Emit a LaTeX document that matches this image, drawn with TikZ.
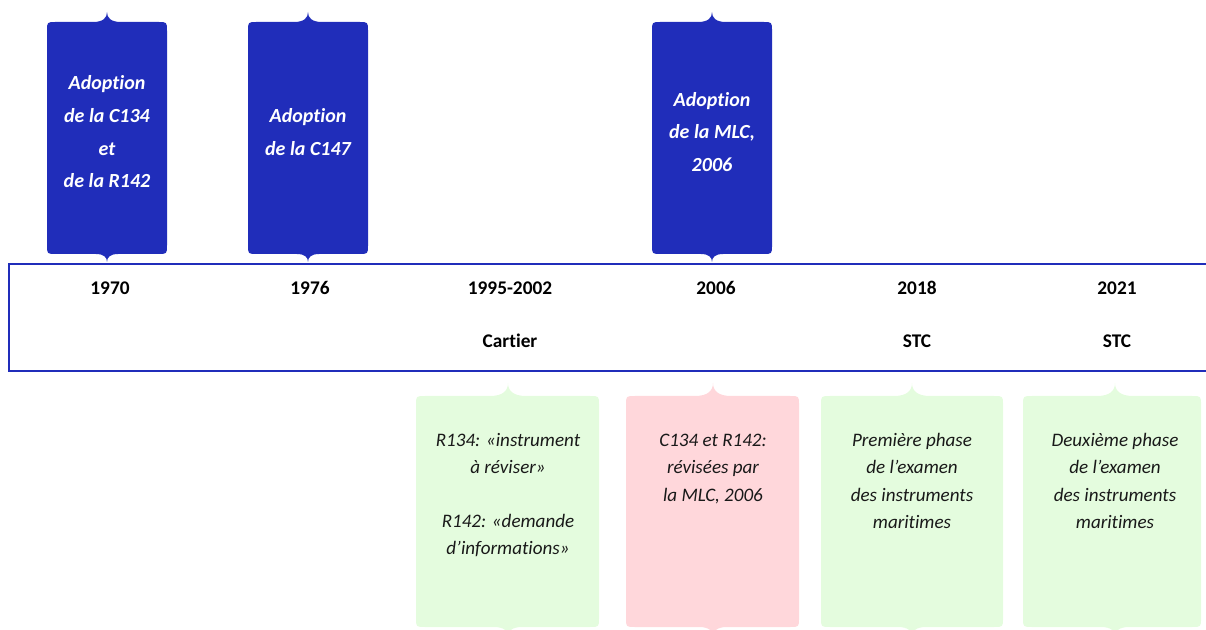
\documentclass[tikz,border=0pt]{standalone}
\usepackage{fontspec}
\setmainfont{Carlito}[Ligatures=NoCommon]
\definecolor{tlblue}{RGB}{32,45,186}
\definecolor{tlgreen}{RGB}{228,252,222}
\definecolor{tlpink}{RGB}{255,215,219}
\definecolor{tltext}{RGB}{25,25,25}
% #1 left, #2 top, #3 right, #4 bottom, #5 cusp x, #6 top cusp size, #7 bottom cusp size, #8 style
\newcommand{\tlshape}[8]{%
  \fill[#8] (#1,#2+9) .. controls (#1,#2) .. (#1+9,#2)
    -- (#5-1.4*#6,#2) .. controls (#5-0.4*#6,#2) and (#5,#2-0.4*#6) .. (#5,#2-#6)
    .. controls (#5,#2-0.4*#6) and (#5+0.4*#6,#2) .. (#5+1.4*#6,#2)
    -- (#3-9,#2) .. controls (#3,#2) .. (#3,#2+9)
    -- (#3,#4-9) .. controls (#3,#4) .. (#3-9,#4)
    -- (#5+1.4*#7,#4) .. controls (#5+0.4*#7,#4) and (#5,#4+0.4*#7) .. (#5,#4+#7)
    .. controls (#5,#4+0.4*#7) and (#5-0.4*#7,#4) .. (#5-1.4*#7,#4)
    -- (#1+9,#4) .. controls (#1,#4) .. (#1,#4-9) -- cycle;}
\begin{document}
\begin{tikzpicture}[x=0.75pt,y=-0.75pt,
  bluebox/.style={fill=tlblue},
  greenbox/.style={fill=tlgreen},
  pinkbox/.style={fill=tlpink},
  band/.style={draw=tlblue,line width=1.5pt},
  bluetxt/.style={text=white,align=center,inner sep=0pt,font=\fontsize{15}{24.5}\selectfont\bfseries\itshape},
  lowtxt/.style={text=tltext,align=center,inner sep=0pt,font=\fontsize{14.3}{20.5}\selectfont\itshape},
  year/.style={text=black,inner sep=0pt,font=\fontsize{14.5}{17}\selectfont\bfseries}]
\useasboundingbox (0,0) rectangle (1206,630);
% upper blue boxes
\tlshape{47}{22}{167}{254}{107}{10}{8}{bluebox}
\tlshape{248}{22}{368}{254}{308}{10}{8}{bluebox}
\tlshape{652}{22}{772}{254}{712}{10}{8}{bluebox}
\node[bluetxt] (a1970) at (107,132) {Adoption\\de la C134\\et\\de la R142};
\node[bluetxt] (a1976) at (308,132) {Adoption\\de la C147};
\node[bluetxt] (a2006) at (712,132) {Adoption\\de la MLC,\\2006};
% band
\draw[band] (1206,264) -- (9,264) -- (9,371) -- (1206,371);
\node[year] (y1970) at (110,288) {1970};
\node[year] (y1976) at (310,288) {1976};
\node[year] (y1995) at (510,288) {1995-2002};
\node[year] (y2006) at (716,288) {2006};
\node[year] (y2018) at (917,288) {2018};
\node[year] (y2021) at (1117,288) {2021};
\node[year] (cartier) at (510,341) {Cartier};
\node[year] (stc1) at (917,341) {STC};
\node[year] (stc2) at (1117,341) {STC};
% lower boxes
\tlshape{416}{396}{599}{627}{508}{13}{10}{greenbox}
\tlshape{626}{396}{799}{627}{713}{13}{10}{pinkbox}
\tlshape{821}{396}{1003}{627}{912}{13}{10}{greenbox}
\tlshape{1023}{396}{1201}{627}{1115}{13}{10}{greenbox}
\node[lowtxt] (b1) at (508,495) {R134: «instrument\\à réviser»\\[19.5pt]R142: «demande\\d’informations»};
\node[lowtxt] (b2) at (713,469) {C134 et R142:\\révisées par\\la MLC, 2006};
\node[lowtxt] (b3) at (912,481) {Première phase\\de l’examen\\des instruments\\maritimes};
\node[lowtxt] (b4) at (1115,481) {Deuxième phase\\de l’examen\\des instruments\\maritimes};
\end{tikzpicture}
\end{document}
